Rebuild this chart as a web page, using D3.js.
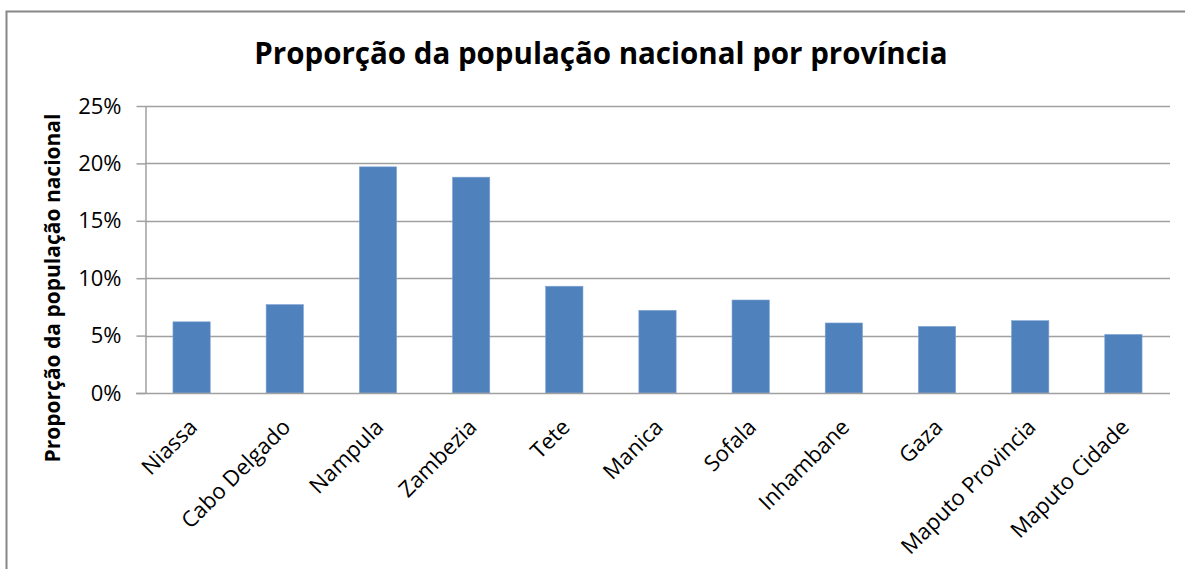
<!DOCTYPE html>
<html>
<head>
<meta charset="utf-8">
<script src="https://cdn.jsdelivr.net/npm/d3@7"></script>
<style>
  html, body { margin: 0; padding: 0; background: #fff; }
  svg { display: block; }
  text { font-family: "Open Sans", sans-serif; fill: #000; }
</style>
</head>
<body>
<svg id="chart" width="1185" height="569"></svg>
<script>
const chartTitle = "Proporção da população nacional por província";
const yAxisTitle = "Proporção da população nacional";
const categories = ["Niassa", "Cabo Delgado", "Nampula", "Zambezia", "Tete", "Manica", "Sofala", "Inhambane", "Gaza", "Maputo Provincia", "Maputo Cidade"];
const values = [0.062, 0.077, 0.197, 0.188, 0.093, 0.072, 0.081, 0.061, 0.058, 0.063, 0.051];
const yTicks = [0, 0.05, 0.10, 0.15, 0.20, 0.25];

const svg = d3.select("#chart");
const W = 1185, H = 569;
const m = { left: 145, right: 1170, top: 106, bottom: 393 };
const FONT = "'Open Sans', sans-serif";

// outer chart border
svg.append("rect")
  .attr("x", 6.5).attr("y", 11.5)
  .attr("width", W + 10).attr("height", H + 10)
  .attr("fill", "#fff").attr("stroke", "#868686").attr("stroke-width", 2);

const x = d3.scaleBand().domain(categories).range([m.left, m.right]).paddingInner(0.6).paddingOuter(0.3);
const y = d3.scaleLinear().domain([0, 0.25]).range([m.bottom, m.top]);

// gridlines
svg.append("g").selectAll("line").data(yTicks.filter(d => d > 0)).join("line")
  .attr("x1", m.left).attr("x2", m.right)
  .attr("y1", d => Math.round(y(d)) + 0.5).attr("y2", d => Math.round(y(d)) + 0.5)
  .attr("stroke", "#a0a0a0").attr("stroke-width", 1.5);

// bars
svg.append("g").selectAll("rect").data(values).join("rect")
  .attr("x", (d, i) => x(categories[i]))
  .attr("y", d => y(d))
  .attr("width", x.bandwidth())
  .attr("height", d => y(0) - y(d))
  .attr("fill", "#4f81bd")
  .attr("stroke", "#7ea3d3").attr("stroke-width", 0.6);

// y axis
const yAxis = d3.axisLeft(y).tickValues(yTicks).tickFormat(d3.format(".0%")).tickSize(9).tickSizeOuter(0).tickPadding(15);
const gy = svg.append("g").attr("transform", `translate(${m.left + 0.5},0)`).call(yAxis);
gy.select(".domain").attr("stroke", "#a0a0a0").attr("stroke-width", 1.5);
gy.selectAll(".tick line").attr("stroke", "#a0a0a0").attr("stroke-width", 1.5);
gy.selectAll(".tick text").attr("font-size", 22).attr("font-family", FONT).attr("fill", "#1a1a1a");

// x axis line
const xAxis = d3.axisBottom(x).tickSize(0).tickSizeOuter(0).tickPadding(0);
const gx = svg.append("g").attr("transform", `translate(0,${m.bottom + 0.5})`).call(xAxis);
gx.select(".domain").attr("stroke", "#a0a0a0").attr("stroke-width", 1.5).attr("d", `M${m.left - 9},0H${m.right}`);
gx.selectAll(".tick text")
  .attr("font-size", 22).attr("font-family", FONT).attr("fill", "#1a1a1a")
  .attr("text-anchor", "end")
  .attr("dy", 0)
  .attr("transform", "translate(7,35) rotate(-45)");

// title
svg.append("text")
  .attr("x", 601).attr("y", 64)
  .attr("text-anchor", "middle")
  .attr("font-size", 29.5).attr("font-weight", "bold")
  .text(chartTitle);

// y axis title
svg.append("text")
  .attr("transform", "translate(60,288) rotate(-90)")
  .attr("text-anchor", "middle")
  .attr("font-size", 21).attr("font-weight", "bold")
  .text(yAxisTitle);
</script>
</body>
</html>
